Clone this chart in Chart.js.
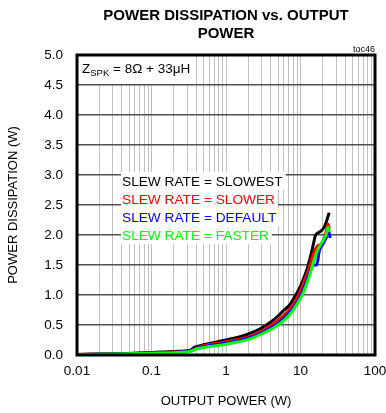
<!DOCTYPE html>
<html>
<head>
    <title>Power dissipation vs. output power</title>
    <script src="https://cdn.jsdelivr.net/npm/chart.js"></script>
    <style>
        body { margin: 0; background: #fff; }
        #wrap { width: 386px; height: 413px; }
    </style>
</head>
<body>
    <div id="wrap"><canvas id="pdChart" width="386" height="413"></canvas></div>

    <script>
        // values (output power W, dissipation W)
        const slowestX = [0.01, 0.03, 0.1, 0.2, 0.33, 0.38, 0.5, 0.7, 1.0, 1.5, 2.0, 3.0, 4.0, 5.0, 6.0, 7.0, 8.0, 10, 12, 14, 16, 18, 20, 22, 23, 24.3];
        const slowestY = [0.01, 0.015, 0.04, 0.06, 0.08, 0.13, 0.17, 0.21, 0.25, 0.30, 0.35, 0.45, 0.55, 0.65, 0.75, 0.82, 0.93, 1.15, 1.40, 1.70, 2.00, 2.05, 2.10, 2.20, 2.28, 2.37];

        const slowerX = [0.01, 0.1, 0.33, 0.4, 1, 2, 3, 5, 7, 9, 11, 13, 15, 17, 19, 21, 22.5, 23.5, 24.5];
        const slowerY = [0.01, 0.035, 0.07, 0.12, 0.22, 0.30, 0.40, 0.58, 0.75, 0.95, 1.20, 1.45, 1.70, 1.82, 1.85, 1.95, 2.10, 2.18, 2.10];

        const defaultX = [0.01, 0.1, 0.33, 0.4, 1, 2, 3, 5, 7, 9, 11, 13, 15, 16.5, 18, 20, 22, 24, 25];
        const defaultY = [0.01, 0.03, 0.065, 0.11, 0.20, 0.28, 0.37, 0.53, 0.70, 0.88, 1.10, 1.35, 1.50, 1.50, 1.75, 1.85, 1.95, 2.05, 1.95];

        const fasterX = [0.01, 0.1, 0.33, 0.4, 1, 2, 3, 5, 7, 9, 11, 13, 15, 17, 20, 22, 23.5, 24.5];
        const fasterY = [0.005, 0.03, 0.06, 0.10, 0.18, 0.26, 0.35, 0.50, 0.66, 0.85, 1.05, 1.30, 1.55, 1.75, 1.90, 2.00, 2.13, 2.05];

        const seriesNames = ['SLEW RATE = SLOWEST', 'SLEW RATE = SLOWER', 'SLEW RATE = DEFAULT', 'SLEW RATE = FASTER'];
        const seriesColors = ['#000000', '#ff0000', '#0000ff', '#00ff00'];
        const xDecades = [0.01, 0.1, 1, 10, 100];
        const yTicks = [0, 0.5, 1, 1.5, 2, 2.5, 3, 3.5, 4, 4.5, 5];

        function pts(xs, ys) {
            return xs.map((x, i) => ({ x: x, y: ys[i] }));
        }

        const FONT = 'Arial, "Liberation Sans", sans-serif';

        // title, notes, legend text and frame
        const extras = {
            id: 'extras',
            afterDatasetsDraw(chart) {
                const ctx = chart.ctx;
                const a = chart.chartArea;
                const cx = (a.left + a.right) / 2;
                ctx.save();

                ctx.fillStyle = '#000';
                ctx.textAlign = 'center';
                ctx.textBaseline = 'middle';
                ctx.font = 'bold 15px ' + FONT;
                ctx.fillText('POWER DISSIPATION vs. OUTPUT', cx, 16);
                ctx.fillText('POWER', cx, 34);

                ctx.font = '9px ' + FONT;
                ctx.textAlign = 'right';
                ctx.textBaseline = 'alphabetic';
                ctx.fillText('toc46', a.right, 52);

                // Z_SPK note with white box
                ctx.fillStyle = '#fff';
                ctx.fillRect(a.left, a.top, 113, 29);
                ctx.fillStyle = '#000';
                ctx.textAlign = 'left';
                ctx.font = '13.5px ' + FONT;
                ctx.fillText('Z', a.left + 5, a.top + 18);
                let w = ctx.measureText('Z').width;
                ctx.font = '9.5px ' + FONT;
                ctx.fillText('SPK', a.left + 5 + w, a.top + 21);
                w += ctx.measureText('SPK').width;
                ctx.font = '13.5px ' + FONT;
                ctx.fillText(' = 8\u03A9 + 33\u03BCH', a.left + 5 + w, a.top + 18);

                // series labels
                ctx.font = '13.7px ' + FONT;
                ctx.textBaseline = 'middle';
                seriesNames.forEach((name, i) => {
                    const y = 181 + i * 18;
                    const tw = ctx.measureText(name).width;
                    ctx.fillStyle = '#fff';
                    ctx.fillRect(121, y - 9, tw + 4, 18);
                    ctx.fillStyle = seriesColors[i];
                    ctx.fillText(name, 122, y + 1);
                });

                ctx.strokeStyle = '#000';
                ctx.lineWidth = 3;
                ctx.strokeRect(a.left, a.top, a.right - a.left, a.bottom - a.top);
                ctx.restore();
            }
        };

        new Chart(document.getElementById('pdChart'), {
            type: 'line',
            data: {
                datasets: [
                    { label: seriesNames[0], data: pts(slowestX, slowestY) },
                    { label: seriesNames[1], data: pts(slowerX, slowerY) },
                    { label: seriesNames[2], data: pts(defaultX, defaultY) },
                    { label: seriesNames[3], data: pts(fasterX, fasterY) }
                ].map((d, i) => Object.assign(d, {
                    borderColor: seriesColors[i],
                    borderWidth: 3,
                    pointRadius: 0,
                    cubicInterpolationMode: 'monotone',
                    fill: false
                })).reverse()
            },
            options: {
                responsive: false,
                animation: false,
                layout: { padding: { top: 55, right: 0, left: 0, bottom: 0 } },
                plugins: {
                    legend: { display: false },
                    tooltip: { enabled: false }
                },
                scales: {
                    x: {
                        type: 'logarithmic',
                        min: 0.01,
                        max: 100,
                        afterBuildTicks(scale) {
                            const t = [];
                            for (let d = 0; d < xDecades.length - 1; d++) {
                                for (let m = 1; m < 10; m++) t.push({ value: xDecades[d] * m });
                            }
                            t.push({ value: xDecades[xDecades.length - 1] });
                            scale.ticks = t;
                        },
                        afterFit(scale) {
                            scale.height = 58;
                            scale.paddingRight = 11;
                        },
                        grid: {
                            color: '#c0c0c0',
                            lineWidth: 1,
                            drawTicks: false
                        },
                        border: { display: false },
                        ticks: {
                            autoSkip: false,
                            maxRotation: 0,
                            padding: 8,
                            color: '#000',
                            font: { family: FONT, size: 13.5 },
                            callback(v) {
                                const i = xDecades.findIndex(d => Math.abs(d - v) < d * 1e-6);
                                return i >= 0 ? String(xDecades[i]) : '';
                            }
                        },
                        title: {
                            display: true,
                            text: 'OUTPUT POWER (W)',
                            color: '#000',
                            font: { family: FONT, size: 13 },
                            padding: { top: 11 }
                        }
                    },
                    y: {
                        min: 0,
                        max: 5,
                        afterBuildTicks(scale) {
                            scale.ticks = yTicks.map(v => ({ value: v }));
                        },
                        afterFit(scale) { scale.width = 77; },
                        grid: {
                            color: '#505050',
                            lineWidth: 1.5,
                            drawTicks: false
                        },
                        border: { display: false },
                        ticks: {
                            padding: 14,
                            color: '#000',
                            font: { family: FONT, size: 13.5 },
                            callback: v => v.toFixed(1)
                        },
                        title: {
                            display: true,
                            text: 'POWER DISSIPATION (W)',
                            color: '#000',
                            font: { family: FONT, size: 13 },
                            padding: { top: 6, bottom: 4 }
                        }
                    }
                }
            },
            plugins: [extras]
        });
    </script>
</body>
</html>
